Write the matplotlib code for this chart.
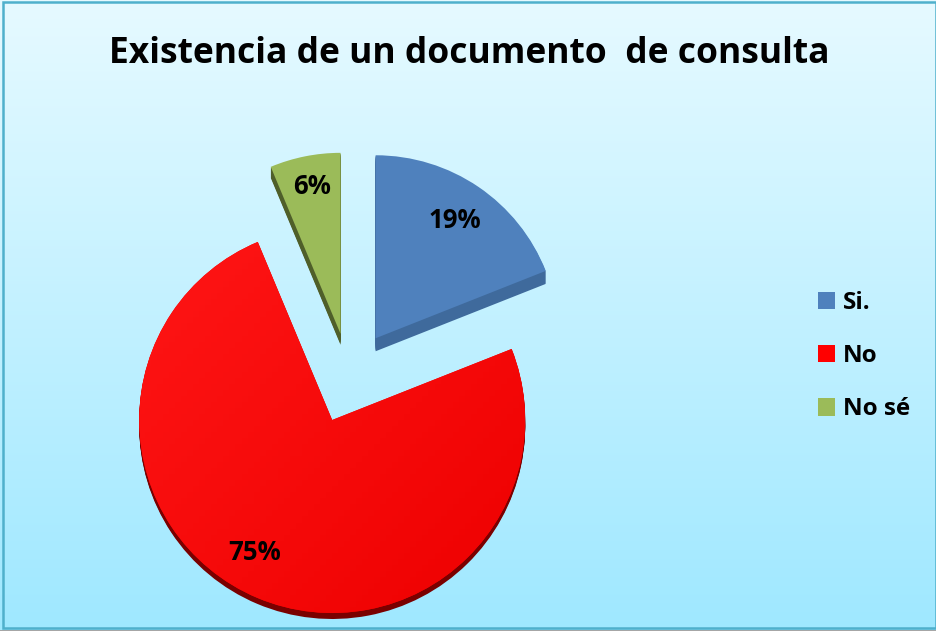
import matplotlib
matplotlib.use("Agg")
import matplotlib.pyplot as plt
import numpy as np
from matplotlib.colors import LinearSegmentedColormap
from matplotlib.patches import Patch, Rectangle, Wedge

plt.rcParams['font.family'] = ['Open Sans', 'DejaVu Sans']

title = "Existencia de un documento  de consulta"
categories = ["Si.", "No", "No sé"]
values = [19.0, 74.7, 6.3]
colors = ["#4F81BD", "#FF0000", "#9BBB59"]
side_colors = ["#3F6A9C", "#7A0000", "#4F5F2A"]

W, H = 937, 631

fig = plt.figure(figsize=(W / 100, H / 100), dpi=100)
ax = fig.add_axes([0, 0, 1, 1])

# Background gradient
bg_cmap = LinearSegmentedColormap.from_list("bg", ["#E6FAFF", "#9FE8FF"])
grad = np.linspace(0, 1, 256).reshape(-1, 1)
ax.imshow(grad, cmap=bg_cmap, extent=[0, W, 0, H], origin="upper", aspect="auto", zorder=0)

# Pie, explode is in data units here since the radius is in pixels
radius = 186
center = (352, H - 373)
wedges, _, autotexts = ax.pie(values, explode=[42, 51, 43],
                              colors=colors, startangle=90, counterclock=False,
                              radius=radius, center=center, frame=False,
                              autopct="%.0f%%", pctdistance=0.6,
                              wedgeprops={"zorder": 3, "linewidth": 0},
                              textprops={"fontsize": 18.5, "fontweight": "bold", "color": "black", "zorder": 6})

# Each slice has its own size in the original
radii = [183, 193, 181]
depths = [13, 6, 11]
nudges = [(0, 0), (0, 0), (-3, -3)]
label_pos = [(455, 221), (255, 552), (312, 187)]
for w, r, depth, side, nudge, pos, txt in zip(wedges, radii, depths, side_colors, nudges, label_pos, autotexts):
    w.set_radius(r)
    w.set_center((w.center[0] + nudge[0], w.center[1] + nudge[1]))
    # side of the slice, stacked copies shifted down
    for d in range(depth, 0, -1):
        ax.add_patch(Wedge((w.center[0], w.center[1] - d), r, w.theta1, w.theta2,
                           facecolor=side, linewidth=0, zorder=2))
    txt.set_position((pos[0], H - pos[1]))
    txt.set_ha("center")
    txt.set_va("center")

# Soft shading on the red slice
red_cmap = LinearSegmentedColormap.from_list("red", ["#FF1616", "#EE0000"])
shade = np.add.outer(np.linspace(0, 1, 64), np.linspace(0, 1, 64)) / 2
cx, cy = wedges[1].center
im = ax.imshow(shade, cmap=red_cmap, extent=[cx - 193, cx + 193, cy - 193, cy + 193],
               origin="upper", aspect="auto", zorder=4)
im.set_clip_path(wedges[1])

# Title
ax.text(469.5, H - 54, title, ha="center", va="center", fontsize=25.5, fontweight="bold", color="black")

# Legend
handles = [Patch(facecolor=c, edgecolor="none") for c in colors]
leg = ax.legend(handles, categories, loc="upper left", bbox_to_anchor=(818 / W, 1 - 291 / H),
                frameon=False, labelspacing=1.2, handlelength=0.72, handleheight=0.72,
                handletextpad=0.3, borderpad=0, borderaxespad=0,
                prop={"size": 17.5, "weight": "bold"})

# Border
ax.add_patch(Rectangle((3, 3), W - 4, H - 5, fill=False, edgecolor="#4FB0CC", linewidth=1.8, zorder=7))
ax.add_patch(Rectangle((0, 0), W, 1.5, facecolor="#A6A6A6", linewidth=0, zorder=8))

ax.set_xlim(0, W)
ax.set_ylim(0, H)
ax.set_aspect("auto")
ax.axis("off")

fig.savefig("out.png", dpi=100)
